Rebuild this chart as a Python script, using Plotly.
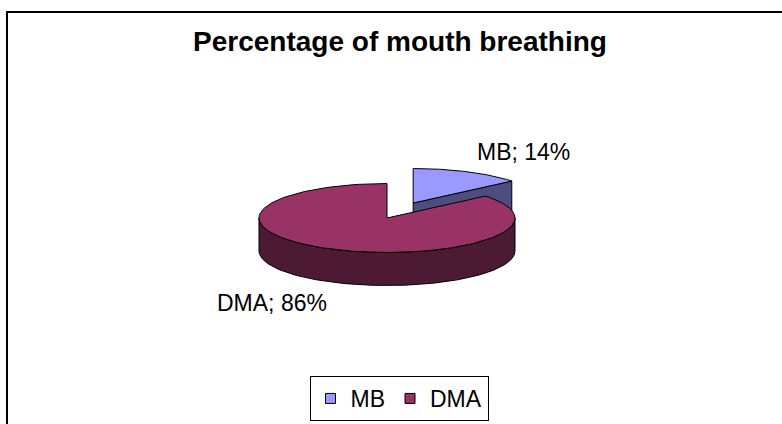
import numpy as np
import plotly.graph_objects as go

# ---- data ----
categories = ["MB", "DMA"]
values = [14, 86]
top_colors = ["#9999FF", "#993366"]
side_colors = ["#4D4D80", "#4D1A33"]
title_text = "Percentage of mouth breathing"

W, H = 782, 424
FONT = "Liberation Sans, Arial, sans-serif"

# ---- 3D pie geometry (screen pixel space) ----
cx, cy = 387, 218      # pie centre
RX, RY = 128, 34.5     # ellipse radii
DEPTH = 33             # thickness
EXPLODE = [0.48, 0.0]  # explode fraction per slice

total = sum(values)
spans = [v / total * 360 for v in values]
# slices drawn clockwise from 12 o'clock
starts = []
a = 90.0
for s in spans:
    starts.append(a)
    a -= s


def pt(ccx, ccy, ang, dz=0.0):
    r = np.radians(ang)
    return ccx + RX * np.cos(r), ccy - RY * np.sin(r) + dz


def arc(ccx, ccy, a0, a1, dz=0.0, n=120):
    angs = np.linspace(a0, a1, n)
    xs = ccx + RX * np.cos(np.radians(angs))
    ys = ccy - RY * np.sin(np.radians(angs)) + dz
    return list(xs), list(ys)


fig = go.Figure()

def poly(xs, ys, color):
    fig.add_trace(go.Scatter(
        x=list(xs) + [xs[0]], y=list(ys) + [ys[0]], mode="lines",
        fill="toself", fillcolor=color,
        line=dict(color="black", width=1), showlegend=False, hoverinfo="skip"))

slices = []
for i, (st, sp) in enumerate(zip(starts, spans)):
    mid = st - sp / 2
    ox = EXPLODE[i] * RX * np.cos(np.radians(mid))
    oy = -EXPLODE[i] * RY * np.sin(np.radians(mid))
    slices.append((cx + ox, cy + oy, st, st - sp))

# draw back-to-front: MB (exploded, behind) then DMA
order = [0, 1]
for i in order:
    scx, scy, a_start, a_end = slices[i]
    lo, hi = a_end, a_start
    segs = []
    for base in (-360, 0, 360):
        s0 = max(lo, 180 + base)
        s1 = min(hi, 360 + base)
        if s1 > s0:
            segs.append((s0, s1))
    for s0, s1 in segs:
        tx, ty = arc(scx, scy, s0, s1)
        bx, by = arc(scx, scy, s1, s0, DEPTH)
        poly(tx + bx, ty + by, side_colors[i])
    for ang, side in ((a_end, -1), (a_start, 1)):
        nang = ang - 90 if side == -1 else ang + 90
        if np.sin(np.radians(nang)) < -1e-6:
            px, py = pt(scx, scy, ang)
            poly([scx, px, px, scx], [scy, py, py + DEPTH, scy + DEPTH], side_colors[i])
    tx, ty = arc(scx, scy, a_start, a_end)
    poly([scx] + tx, [scy] + ty, top_colors[i])

# legend entries
for name, col in zip(categories, top_colors):
    fig.add_trace(go.Scatter(
        x=[None], y=[None], mode="markers", name=name,
        marker=dict(symbol="square", size=10, color=col,
                    line=dict(color="black", width=1))))

# data labels
label_pos = [(523, 152), (272, 303)]
for (lx, ly), name, v in zip(label_pos, categories, values):
    fig.add_annotation(x=lx, y=ly, xref="x", yref="y",
                       text=f"{name}; {v}%", showarrow=False,
                       font=dict(family=FONT, size=23, color="black"))

# chart frame
fig.add_shape(type="rect", xref="paper", yref="paper",
              x0=7 / W, x1=1.05, y0=-0.05, y1=1 - 12 / H,
              line=dict(color="black", width=2), layer="above")

fig.update_layout(
    width=W, height=H, autosize=False,
    margin=dict(l=0, r=0, t=0, b=0),
    paper_bgcolor="white", plot_bgcolor="white",
    xaxis=dict(range=[0, W], visible=False, fixedrange=True),
    yaxis=dict(range=[H, 0], visible=False, fixedrange=True),
    title=dict(text=f"<b>{title_text}</b>", x=400 / W, xanchor="center",
               y=1 - 41 / H, yanchor="middle",
               font=dict(family=FONT, size=28, color="black")),
    legend=dict(orientation="h", x=399 / W, xanchor="center",
                y=3 / H, yanchor="bottom",
                bordercolor="black", borderwidth=1, bgcolor="white",
                font=dict(family=FONT, size=23, color="black"),
                itemwidth=30, traceorder="normal"),
    showlegend=True,
)

fig.write_html("out.html", config={"displayModeBar": False},
               post_script="document.body.style.margin='0';document.body.style.overflow='hidden';")
